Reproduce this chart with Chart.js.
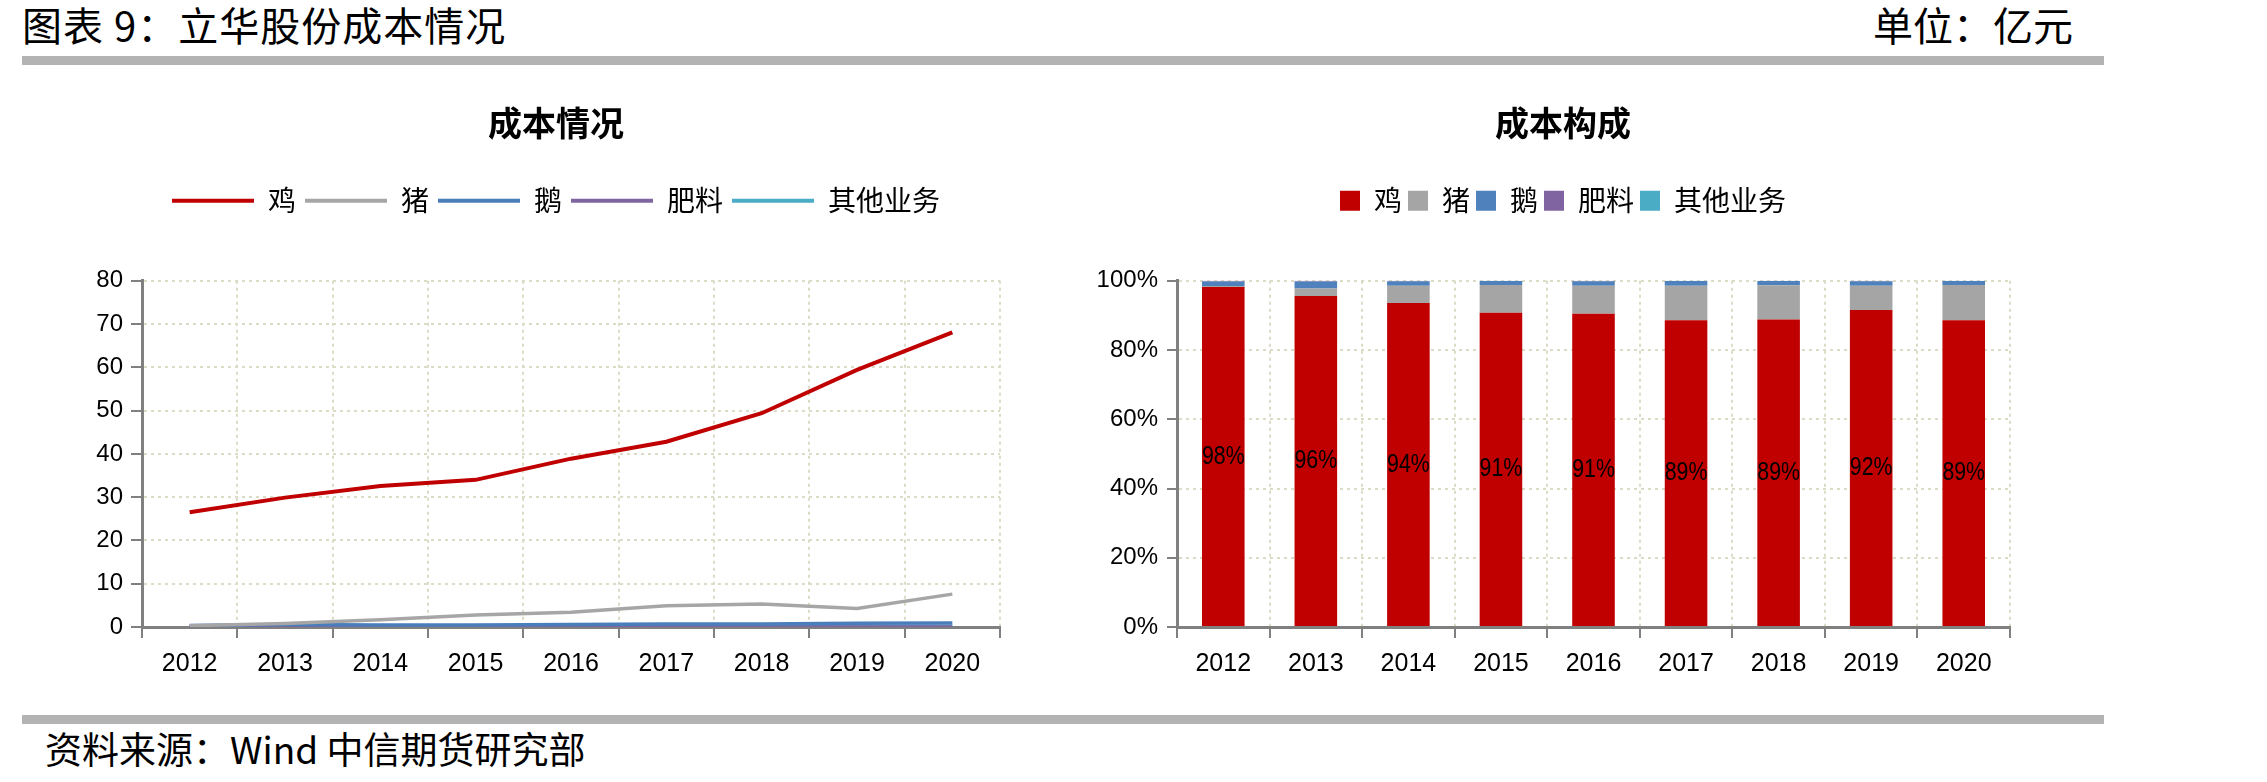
<!DOCTYPE html>
<html>
<head>
<meta charset="utf-8">
<script src="https://cdn.jsdelivr.net/npm/chart.js@4.4.1/dist/chart.umd.min.js"></script>
<style>
  html, body { margin: 0; padding: 0; background: #fff; }
  body { width: 2267px; height: 782px; position: relative; overflow: hidden; font-family: 'Noto Sans CJK SC', sans-serif; }
  .head { position: absolute; top: 4px; font-size: 40px; line-height: 40px; color: #000; white-space: nowrap; }
  .bar { position: absolute; left: 22px; width: 2082px; height: 9px; background: #b3b3b3; }
  .foot { position: absolute; left: 45px; top: 730px; font-size: 37px; line-height: 37px; color: #000; white-space: nowrap; }
  canvas { position: absolute; }
</style>
</head>
<body>
<div class="head" style="left:22px; letter-spacing:1px;">图表 9：立华股份成本情况</div>
<div class="head" style="right:194px;">单位：亿元</div>
<div class="bar" style="top:56px;"></div>
<div style="position:absolute; left:82px; top:90px; width:938px; height:610px;"><canvas id="costLine"></canvas></div>
<div style="position:absolute; left:1074px; top:90px; width:966px; height:610px;"><canvas id="costShare"></canvas></div>
<div class="bar" style="top:715px;"></div>
<div class="foot">资料来源：Wind 中信期货研究部</div>

<script>
// years and series (亿元)
const years = ['2012', '2013', '2014', '2015', '2016', '2017', '2018', '2019', '2020'];
const chicken = [26.5, 29.9, 32.6, 34.0, 38.9, 42.8, 49.4, 59.4, 68.1];
const pig = [0.3, 0.8, 1.7, 2.8, 3.4, 4.9, 5.3, 4.3, 7.6];
const goose = [0.35, 0.6, 0.45, 0.45, 0.55, 0.7, 0.7, 0.85, 0.9];
const fertilizer = [0.2, 0.15, 0.05, 0.02, 0.02, 0.02, 0.02, 0.02, 0.02];
const otherBiz = [0.0, 0.05, 0.1, 0.2, 0.2, 0.2, 0.2, 0.2, 0.2];

// cost structure (%)
const chickenShare = [98.2, 95.6, 93.6, 90.8, 90.5, 88.6, 88.8, 91.6, 88.6];
const pigShare = [0.3, 2.2, 5.0, 8.0, 8.1, 10.0, 9.9, 7.0, 10.2];
const gooseShare = [1.3, 2.0, 1.3, 1.2, 1.3, 1.4, 1.3, 1.3, 1.2];
const fertilizerShare = [0.2, 0.2, 0.1, 0.0, 0.1, 0.0, 0.0, 0.1, 0.0];
const otherShare = [0, 0, 0, 0, 0, 0, 0, 0, 0];

const seriesNames = ['鸡', '猪', '鹅', '肥料', '其他业务'];
const lineColors = ['#c00000', '#a6a6a6', '#4a7ebb', '#7f64a2', '#4bacc6'];
const barColors = ['#c00000', '#a5a5a5', '#4f81bd', '#8064a2', '#4bacc6'];

const tickFont = { family: "'Liberation Sans', Arial, sans-serif", size: 25 };
const cjkFont = "'Noto Sans CJK SC', sans-serif";
const axisGray = '#808080';
const gridColor = '#dcdcc6';

// push the plot area down below the legend
function legendSpace(extra) {
  return {
    id: 'legendSpace',
    beforeInit(chart) {
      const fit = chart.legend.fit;
      chart.legend.fit = function () {
        fit.bind(chart.legend)();
        this.height += extra;
      };
    }
  };
}

// title and legend sit a little off the plot centre in the original
function shiftHeader(dx) {
  return {
    id: 'shiftHeader',
    afterLayout(chart) {
      [chart.titleBlock, chart.legend].forEach(b => {
        if (b) { b.left += dx; b.right += dx; }
      });
    }
  };
}

function legendItems(chart) {
  return chart.data.datasets.map((ds, i) => ({
    text: ds.label,
    fillStyle: ds.legendColor,
    strokeStyle: ds.legendColor,
    lineWidth: 0,
    fontColor: '#000',
    datasetIndex: i
  }));
}

function xAxis(height) {
  return {
    offset: true,
    grid: { offset: true, color: gridColor, lineWidth: 2, tickColor: axisGray, tickWidth: 2, tickLength: 11, tickBorderDash: [] },
    border: { color: axisGray, width: 3, dash: [3, 4] },
    ticks: { font: tickFont, color: '#000', padding: 11, maxRotation: 0 },
    afterFit(s) { s.height = height; }
  };
}

// 成本情况
const lineSeries = [chicken, pig, goose, fertilizer, otherBiz];
new Chart(document.getElementById('costLine'), {
  type: 'line',
  data: {
    labels: years,
    datasets: lineSeries.map((d, i) => ({
      label: seriesNames[i],
      data: d,
      borderColor: lineColors[i],
      backgroundColor: lineColors[i],
      legendColor: lineColors[i],
      borderWidth: i === 0 ? 4 : 3.5,
      pointRadius: 0,
      tension: 0
    }))
  },
  options: {
    responsive: true,
    maintainAspectRatio: false,
    animation: false,
    layout: { padding: { left: 10, right: 20, top: 0, bottom: 0 } },
    plugins: {
      title: {
        display: true, text: '成本情况', color: '#000',
        font: { family: cjkFont, size: 34, weight: 'bold' },
        padding: { top: 13, bottom: 34 }
      },
      legend: {
        labels: {
          font: { family: cjkFont, size: 28 }, color: '#000',
          boxWidth: 82, boxHeight: 4, padding: 9,
          generateLabels: legendItems
        }
      },
      tooltip: { enabled: false }
    },
    scales: {
      x: xAxis(73),
      y: {
        min: 0, max: 80,
        ticks: { stepSize: 10, font: { family: tickFont.family, size: 24 }, color: '#000', padding: 8 },
        grid: { color: gridColor, lineWidth: 2, tickColor: axisGray, tickWidth: 2, tickLength: 11, tickBorderDash: [] },
        border: { color: axisGray, width: 3, dash: [3, 4] },
        afterFit(s) { s.width = 50; }
      }
    }
  },
  plugins: [legendSpace(56), shiftHeader(10)]
});

// 成本构成
const shareSeries = [chickenShare, pigShare, gooseShare, fertilizerShare, otherShare];
const shareLabels = {
  id: 'shareLabels',
  afterDatasetsDraw(chart) {
    const ctx = chart.ctx;
    const meta = chart.getDatasetMeta(0);
    ctx.save();
    ctx.font = "26px 'Liberation Sans', Arial, sans-serif";
    ctx.fillStyle = '#000';
    ctx.textAlign = 'center';
    ctx.textBaseline = 'middle';
    meta.data.forEach((bar, i) => {
      const v = chart.data.datasets[0].data[i];
      ctx.save();
      ctx.translate(bar.x, (bar.y + bar.base) / 2);
      ctx.scale(0.82, 1);
      ctx.fillText(Math.round(v) + '%', 0, 0);
      ctx.restore();
    });
    ctx.restore();
  }
};

new Chart(document.getElementById('costShare'), {
  type: 'bar',
  data: {
    labels: years,
    datasets: shareSeries.map((d, i) => ({
      label: seriesNames[i],
      data: d,
      backgroundColor: barColors[i],
      legendColor: barColors[i],
      borderWidth: 0,
      barPercentage: 0.46,
      categoryPercentage: 1
    }))
  },
  options: {
    responsive: true,
    maintainAspectRatio: false,
    animation: false,
    layout: { padding: { left: 20, right: 30, top: 0, bottom: 0 } },
    plugins: {
      title: {
        display: true, text: '成本构成', color: '#000',
        font: { family: cjkFont, size: 34, weight: 'bold' },
        padding: { top: 13, bottom: 37 }
      },
      legend: {
        labels: {
          font: { family: cjkFont, size: 28 }, color: '#000',
          boxWidth: 20, boxHeight: 20, padding: 6,
          generateLabels: legendItems
        }
      },
      tooltip: { enabled: false }
    },
    scales: {
      x: Object.assign(xAxis(73), { stacked: true }),
      y: {
        stacked: true,
        min: 0, max: 100,
        ticks: { stepSize: 20, font: { family: tickFont.family, size: 24 }, color: '#000', padding: 9, callback: v => v + '%' },
        grid: { color: gridColor, lineWidth: 2, tickColor: axisGray, tickWidth: 2, tickLength: 10, tickBorderDash: [] },
        border: { color: axisGray, width: 3, dash: [3, 4] },
        afterFit(s) { s.width = 83; }
      }
    }
  },
  plugins: [legendSpace(56), shiftHeader(11), shareLabels]
});
</script>
</body>
</html>
